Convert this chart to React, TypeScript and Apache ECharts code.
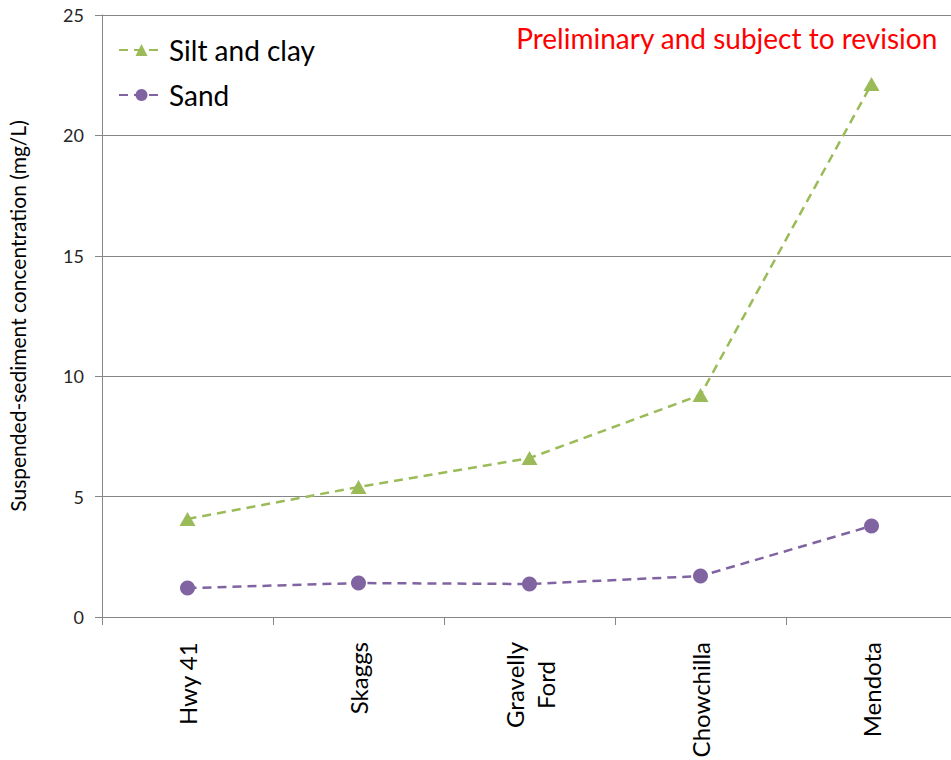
import React, { useEffect, useRef } from "react";
import * as echarts from "echarts";

const categories = ["Hwy 41", "Skaggs", "Gravelly\nFord", "Chowchilla", "Mendota"];
const siltAndClay = [4.07, 5.4, 6.6, 9.22, 22.13];
const sand = [1.2, 1.41, 1.37, 1.7, 3.78];
const yTicks = { min: 0, max: 25, interval: 5 };

const FONT = "Lato, 'Open Sans', sans-serif";

export default function App() {
  const ref = useRef<HTMLDivElement>(null);
  useEffect(() => {
    if (!ref.current) return;
    const chart = echarts.init(ref.current, null, { renderer: "svg" });
    chart.setOption({
      animation: false,
      backgroundColor: "#ffffff",
      textStyle: { fontFamily: FONT },
      grid: { left: 102, top: 15, width: 855, bottom: 143, containLabel: false, outerBoundsMode: "none" },
      legend: {
        orient: "vertical",
        left: 113,
        top: 31,
        itemWidth: 45,
        itemHeight: 15,
        itemGap: 17,
        textStyle: { fontSize: 28, color: "#000", fontFamily: FONT },
        data: ["Silt and clay", "Sand"],
      },
      graphic: [
        {
          type: "text",
          right: 13,
          top: 24,
          style: { text: "Preliminary and subject to revision", fill: "#ff0000", font: `28px ${FONT}` },
        },
      ],
      xAxis: {
        type: "category",
        data: categories,
        boundaryGap: true,
        axisLine: { show: true, lineStyle: { color: "#868686", width: 1 } },
        axisTick: { show: true, length: 8, lineStyle: { color: "#868686" } },
        axisLabel: {
          interval: 0,
          rotate: 90,
          margin: 25,
          formatter: (v: string) => v.split("\n").map((s) => `{c|${s}}`).join("\n"),
          rich: {
            c: { fontSize: 24, lineHeight: 31, align: "center", color: "#000", fontFamily: FONT },
          },
        },
        splitLine: { show: false },
      },
      yAxis: {
        type: "value",
        min: yTicks.min,
        max: yTicks.max,
        interval: yTicks.interval,
        name: "Suspended-sediment concentration (mg/L)",
        nameLocation: "middle",
        nameGap: 74,
        nameRotate: 90,
        nameTextStyle: { fontSize: 21, color: "#000", fontFamily: FONT },
        axisLine: { show: true, lineStyle: { color: "#868686", width: 1 } },
        axisTick: { show: true, length: 7, lineStyle: { color: "#868686" } },
        axisLabel: { fontSize: 18, color: "#262626", margin: 18, fontFamily: FONT },
        splitLine: { show: true, lineStyle: { color: "#868686", width: 1 } },
      },
      series: [
        {
          name: "Silt and clay",
          type: "line",
          data: siltAndClay,
          symbol: "triangle",
          symbolSize: [16, 14],
          itemStyle: { color: "#9BBB59" },
          lineStyle: { color: "#9BBB59", width: 2.5, type: [9, 6] },
        },
        {
          name: "Sand",
          type: "line",
          data: sand,
          symbol: "circle",
          symbolSize: 15,
          itemStyle: { color: "#8064A2" },
          lineStyle: { color: "#8064A2", width: 2.5, type: [9, 6] },
        },
      ],
    });
    return () => chart.dispose();
  }, []);
  return (
    <div
      ref={ref}
      style={{ position: "absolute", left: 0, top: 0, width: 951, height: 760, overflow: "hidden" }}
    />
  );
}
